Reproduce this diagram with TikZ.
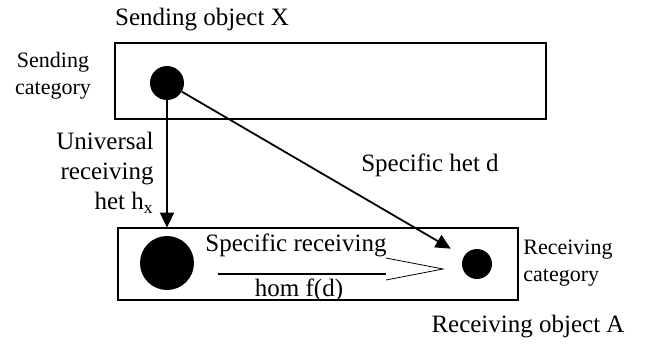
\documentclass[tikz,border=0pt]{standalone}
\usepackage{fontspec}
\setmainfont{Liberation Serif}
\usepackage{tikz}
\usetikzlibrary{arrows.meta}
\tikzset{circ/.style = {fill, circle, inner sep = 0}}
\tikzset{catbox/.style = {draw, line width = 0.9pt}}
\tikzset{harrow/.style = {-{Triangle[length=7.5pt, width=7pt]}, line width = 0.9pt}}
\tikzset{lbl/.style = {font = \fontsize{12.5}{15}\selectfont, inner sep = 0}}
\tikzset{slbl/.style = {font = \fontsize{11}{13.5}\selectfont, inner sep = 0}}

\begin{document}
\begin{tikzpicture}[x=0.5pt, y=-0.5pt]
      \useasboundingbox (0, 0) rectangle (666, 344);

      \draw [catbox] (115, 43) rectangle (546, 119);
      \draw [catbox] (118, 228) rectangle (518, 300);

      \node [circ, minimum size = 17pt] (sx) at (167, 83) {};
      \node [circ, minimum size = 27pt] (ux) at (167, 263) {};
      \node [circ, minimum size = 15pt] (ra) at (477, 264) {};

      \node [lbl] (sendobj) at (202, 20) {Sending object X};
      \node [slbl, align = center] (sendcat) at (53, 76) {Sending\\category};
      \node [lbl, align = right, anchor = east] (univ) at (154, 173) {Universal\\receiving\\het h\textsubscript{x}};
      \node [lbl] (spechet) at (430, 165) {Specific het d};
      \node [lbl] (specrec) at (296, 245) {Specific receiving};
      \node [lbl] (hom) at (299, 290) {hom f(d)};
      \node [slbl, align = left, anchor = west] (recvcat) at (523, 263) {Receiving\\category};
      \node [lbl] (recvobj) at (528, 327) {Receiving object A};

      \draw [harrow, shorten >= 4pt] (sx) -- (ux);
      \draw [harrow, shorten >= 7.5pt] (sx) -- (ra);

      \coordinate (homl) at (218, 274);
      \coordinate (homr) at (386, 274);
      \coordinate (tip) at (443, 269);
      \draw [line width = 1pt] (homl) -- (homr);
      \draw [thin] (386, 258) -- (tip) -- (386, 280);
\end{tikzpicture}
\end{document}
